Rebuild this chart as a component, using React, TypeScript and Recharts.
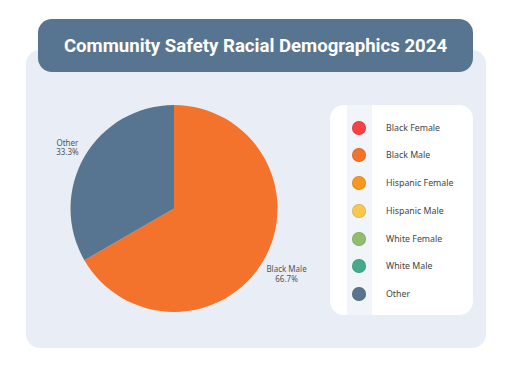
import { PieChart, Pie, Cell } from 'recharts';

const categories = ['Black Female', 'Black Male', 'Hispanic Female', 'Hispanic Male', 'White Female', 'White Male', 'Other'];
const counts = [0, 2, 0, 0, 0, 0, 1];
const colors = ['#f94144', '#f3722c', '#f8961e', '#f9c74f', '#90be6d', '#43aa8b', '#577590'];

const total = counts.reduce((a, b) => a + b, 0);
const data = categories.map((name, i) => ({ name, value: counts[i] }));

const RAD = Math.PI / 180;
const FONT = '"Noto Sans", "Open Sans", sans-serif';

const renderLabel = (props: any) => {
  const { cx, cy, midAngle, outerRadius, name, value } = props;
  if (!value) return null;
  const r = outerRadius + 23;
  const x = cx + r * Math.cos(-midAngle * RAD) + 3;
  const y = cy + r * Math.sin(-midAngle * RAD);
  const pct = ((value / total) * 100).toFixed(1);
  return (
    <text x={x} y={y} textAnchor="middle" fill="#555" fontSize={8} fontFamily={FONT}>
      <tspan x={x} dy={0.5}>{name}</tspan>
      <tspan x={x} dy={9.5}>{pct}%</tspan>
    </text>
  );
};

export default function App() {
  return (
    <div style={{ position: 'absolute', left: 0, top: 0, width: 512, height: 384, background: '#fff', fontFamily: FONT }}>
      <div style={{ position: 'absolute', left: 26, top: 50, width: 460, height: 298, background: '#e9eef6', borderRadius: 14 }} />
      <div
        style={{
          position: 'absolute', left: 38, top: 19, width: 435, height: 53, background: '#577590', borderRadius: 14,
          display: 'flex', alignItems: 'center', justifyContent: 'center', color: '#fff',
          fontFamily: 'Roboto, sans-serif', fontWeight: 700, fontSize: 18.6
        }}
      >
        Community Safety Racial Demographics 2024
      </div>

      <div style={{ position: 'absolute', left: 24, top: 58 }}>
        <PieChart width={300} height={300}>
          <Pie
            data={data}
            dataKey="value"
            nameKey="name"
            cx={145}
            cy={145.5}
            outerRadius={103.5}
            startAngle={90}
            endAngle={-270}
            stroke="none"
            label={renderLabel}
            labelLine={false}
            isAnimationActive={false}
          >
            {data.map((d, i) => (
              <Cell key={d.name} fill={colors[i]} />
            ))}
          </Pie>
        </PieChart>
      </div>

      <div style={{ position: 'absolute', left: 330, top: 105, width: 143, height: 210, background: '#fff', borderRadius: 14, overflow: 'hidden' }}>
        <div style={{ position: 'absolute', left: 17, top: 0, width: 25, height: 210, background: '#f1f4f8' }} />
        {categories.map((c, i) => (
          <div key={c} style={{ position: 'absolute', left: 0, top: 22.7 + i * 27.7 - 8, height: 16, display: 'flex', alignItems: 'center' }}>
            <div style={{ position: 'absolute', left: 22, top: 1, width: 14, height: 14, borderRadius: 7, background: colors[i], boxShadow: 'inset 0 0 0 0.8px rgba(0,0,0,0.12)' }} />
            <span style={{ position: 'absolute', left: 56, whiteSpace: 'nowrap', fontSize: 8.8, color: '#444' }}>{c}</span>
          </div>
        ))}
      </div>
    </div>
  );
}
